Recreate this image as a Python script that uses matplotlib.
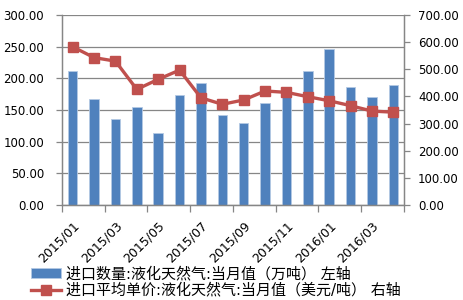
import numpy as np
import matplotlib
matplotlib.use('Agg')
from matplotlib import pyplot as plt
from matplotlib.ticker import MultipleLocator, FixedLocator

plt.rcParams['font.family'] = ['DejaVu Sans', 'Noto Sans CJK SC']

months = ['2015/01', '2015/02', '2015/03', '2015/04', '2015/05', '2015/06',
          '2015/07', '2015/08', '2015/09', '2015/10', '2015/11', '2015/12',
          '2016/01', '2016/02', '2016/03', '2016/04']
volume = [212, 167, 135, 155, 113, 173, 193, 142, 130, 161, 178, 211, 247, 186, 171, 190]
price = [583, 543, 530, 426, 463, 497, 395, 371, 387, 420, 415, 399, 384, 366, 346, 342]
label_vol = '进口数量:液化天然气:当月值（万吨） 左轴'
label_price = '进口平均单价:液化天然气:当月值（美元/吨） 右轴'

grey = '#868686'

fig = plt.figure(figsize=(4.64, 3.0), dpi=100)
ax = fig.add_axes([62/464, 1-205/300, (404-62)/464, 190/300])
x = np.arange(len(months))

bars = ax.bar(x, volume, width=0.45, color='#4F81BD', edgecolor='#B4C9E4', linewidth=0.6,
              label=label_vol, zorder=2)
ax.set_ylim(0, 300)
ax.set_xlim(-0.5, len(months) - 0.5)
ax.yaxis.set_major_locator(MultipleLocator(50))
ax.set_yticklabels([f'{v:.2f}' for v in ax.get_yticks()])
ax.grid(axis='y', color=grey, linewidth=0.9, zorder=0)

ax2 = ax.twinx()
line, = ax2.plot(x, price, color='#C0504D', linewidth=2.4, marker='s', markersize=7.5,
                 label=label_price, zorder=3)
ax2.set_ylim(0, 700)
ax2.yaxis.set_major_locator(MultipleLocator(100))
ax2.set_yticklabels([f'{v:.2f}' for v in ax2.get_yticks()])

ax.set_xticks(x[::2])
ax.set_xticklabels(months[::2], rotation=45, ha='right', rotation_mode='anchor')
ax.xaxis.set_minor_locator(FixedLocator(np.arange(-0.5, len(months), 2)))
ax.tick_params(axis='x', which='major', length=0, pad=10, labelsize=9)
ax.tick_params(axis='x', which='minor', length=5, color=grey, width=0.9)

ax.tick_params(axis='y', length=4, color=grey, width=0.9, labelsize=8.5, pad=9)
ax2.tick_params(axis='y', length=4, color=grey, width=0.9, labelsize=8.5, pad=6)
for a in (ax, ax2):
    a.spines['top'].set_visible(False)
    for s in ('left', 'right', 'bottom'):
        a.spines[s].set_color(grey)
        a.spines[s].set_linewidth(0.9)

fig.legend(handles=[bars, line], loc='upper left', bbox_to_anchor=(31/464, 1-266/300),
           frameon=False, fontsize=10.8, handlelength=2.0, handletextpad=0.3,
           labelspacing=0.12, borderpad=0, borderaxespad=0)

fig.savefig('out.png', dpi=100)
